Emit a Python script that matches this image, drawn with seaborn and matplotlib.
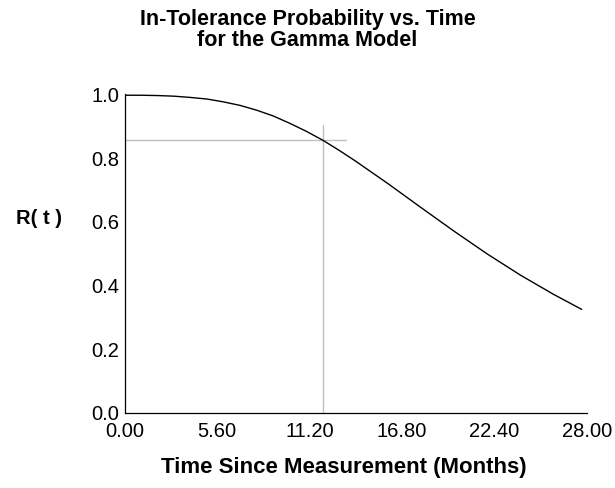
import numpy as np
import pandas as pd
import matplotlib
matplotlib.use("Agg")
import matplotlib.pyplot as plt
import seaborn as sns

# R(t)
time_months = [0, 1, 2, 3, 4, 5, 6, 7, 8, 9, 10, 11, 12, 13, 14,
               16, 18, 20, 22, 24, 26, 27.7]
in_tol_prob = [0.997, 0.997, 0.996, 0.994, 0.990, 0.985, 0.976, 0.965, 0.950,
               0.932, 0.909, 0.884, 0.856, 0.824, 0.790,
               0.718, 0.643, 0.569, 0.498, 0.432, 0.372, 0.325]

# crosshair marking the reliability target
target_t = 12.0
target_r = 0.855
cross_v_top = 0.905
cross_h_end = 13.4

x_ticks = [0.0, 5.6, 11.2, 16.8, 22.4, 28.0]
y_ticks = [0.0, 0.2, 0.4, 0.6, 0.8, 1.0]

sns.set_theme(style="white")
plt.rcParams['font.family'] = ['Liberation Sans', 'DejaVu Sans']
plt.rcParams['text.color'] = 'black'

df = pd.DataFrame({'t': time_months, 'R': in_tol_prob})

fig = plt.figure(figsize=(6.15, 4.88), dpi=100)
ax = fig.add_axes([0.2028, 0.1537, 0.7512, 0.6531])

ax.plot([target_t, target_t], [0, cross_v_top], color='#c0c0c0', lw=1.0, zorder=1)
ax.plot([0, cross_h_end], [target_r, target_r], color='#c0c0c0', lw=1.0, zorder=1)
sns.lineplot(data=df, x='t', y='R', ax=ax, color='black', lw=1.0, zorder=2)

ax.set_xlim(0, 28)
ax.set_ylim(0, 1.0)
ax.set_xticks(x_ticks)
ax.set_xticklabels([f"{v:.2f}" for v in x_ticks])
ax.set_yticks(y_ticks)
ax.set_yticklabels([f"{v:.1f}" for v in y_ticks])
ax.tick_params(axis='both', which='major', direction='out', length=5, width=0.8,
               color='#404040', labelcolor='black', labelsize=14.5)
ax.tick_params(axis='x', pad=1.5)
ax.tick_params(axis='y', pad=-1)
ax.set_xlabel('')
ax.set_ylabel('')

sns.despine(ax=ax)
for s in ['left', 'bottom']:
    ax.spines[s].set_color('black')
    ax.spines[s].set_linewidth(0.9)

fig.text(0.5, 0.9395, 'In-Tolerance Probability vs. Time\nfor the Gamma Model',
         ha='center', va='center', fontsize=15.5, fontweight='bold', linespacing=1.0)
fig.text(0.559, 0.041, 'Time Since Measurement (Months)', ha='center', va='center',
         fontsize=16, fontweight='bold')
fig.text(0.063, 0.553, 'R( t )', ha='center', va='center', fontsize=14.5, fontweight='bold')

fig.savefig('out.png', dpi=100, facecolor='white')
